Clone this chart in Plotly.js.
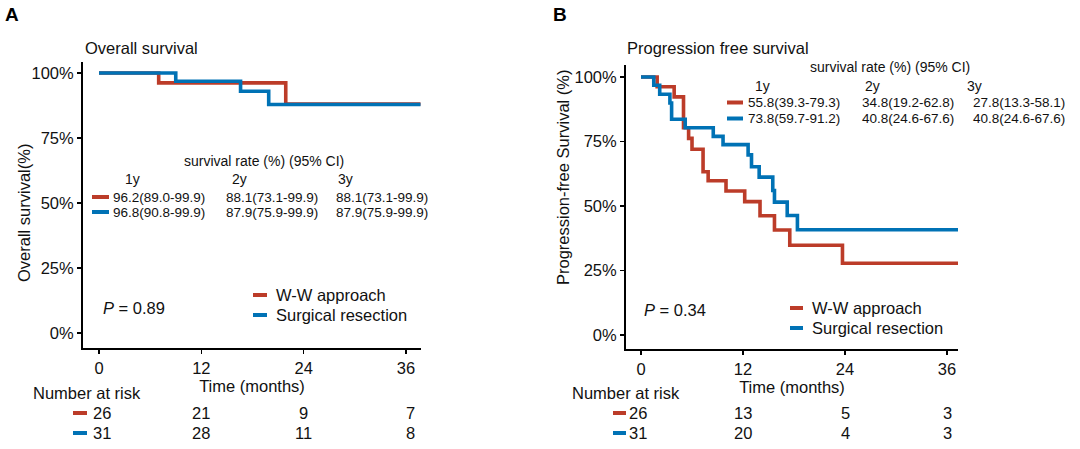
<!DOCTYPE html>
<html>
<head>
<meta charset="utf-8">
<script src="https://cdn.plot.ly/plotly-3.0.1.min.js"></script>
<style>html,body{margin:0;padding:0;background:#fff}#chart{width:1080px;height:449px}</style>
</head>
<body>
<div id="chart"></div>
<script>
// ---------- DATA ----------
const groupNames = ["W-W approach", "Surgical resection"];
const groupColors = ["#BC3C29", "#0072B5"];

// Overall survival (panel A)
const osTimeWW = [0, 7.0, 21.9, 37.7];
const osSurvWW = [100, 96.2, 88.1, 88.1];
const osTimeSR = [0, 9.0, 16.6, 19.9, 37.7];
const osSurvSR = [100, 96.8, 93.0, 87.9, 87.9];

// Progression free survival (panel B)
const pfsTimeWW = [0, 1.9, 3.9, 5.0, 5.6, 6.0, 7.3, 7.9, 10.0, 12.2, 14.0, 15.7, 17.5, 23.7, 37.3];
const pfsSurvWW = [100, 96.2, 92.3, 80.3, 76.2, 72.0, 63.3, 59.8, 55.8, 51.7, 46.2, 40.7, 34.8, 27.8, 27.8];
const pfsTimeSR = [0, 1.5, 2.2, 3.4, 3.6, 5.2, 8.5, 9.65, 12.6, 13.0, 13.9, 15.5, 15.7, 17.2, 18.4, 37.3];
const pfsSurvSR = [100, 96.8, 93.3, 89.9, 83.6, 80.3, 77.0, 73.8, 69.8, 65.2, 61.2, 56.0, 51.5, 46.3, 40.8, 40.8];

// axis ticks
const survTicks = [0, 25, 50, 75, 100];
const survTickLabels = ["0%", "25%", "50%", "75%", "100%"];

// survival-rate tables
const yearLabels = ["1y", "2y", "3y"];
const osRates = [["96.2(89.0-99.9)", "88.1(73.1-99.9)", "88.1(73.1-99.9)"],
                 ["96.8(90.8-99.9)", "87.9(75.9-99.9)", "87.9(75.9-99.9)"]];
const pfsRates = [["55.8(39.3-79.3)", "34.8(19.2-62.8)", "27.8(13.3-58.1)"],
                  ["73.8(59.7-91.2)", "40.8(24.6-67.6)", "40.8(24.6-67.6)"]];

// number at risk
const riskTimes = [0, 12, 24, 36];
const osRisk = [[26, 21, 9, 7], [31, 28, 11, 8]];
const pfsRisk = [[26, 13, 5, 3], [31, 20, 4, 3]];

const osP = "0.89";
const pfsP = "0.34";

// ---------- LAYOUT HELPERS ----------
const W = 1080, H = 449;
const FONT = "Liberation Sans, Arial, Helvetica, sans-serif";
const px = x => x / W;
const py = y => 1 - y / H;

function ann(text, x, y, o = {}) {
  return {
    text: text, x: o.xref ? x : px(x), y: py(y),
    xref: o.xref || "paper", yref: "paper",
    showarrow: false, xanchor: o.xanchor || "left", yanchor: "middle",
    textangle: o.angle || 0, xshift: o.xshift || 0, borderpad: 0,
    font: {family: FONT, size: o.size || 13.5, color: o.color || "#111"}
  };
}
function dash(x0, x1, y, color) {
  return {type: "line", xref: "paper", yref: "paper",
    x0: px(x0), x1: px(x1), y0: py(y), y1: py(y),
    line: {color: color, width: 4}};
}

function curve(t, s, i, xa, ya) {
  return {type: "scatter", mode: "lines", x: t, y: s, xaxis: xa, yaxis: ya,
    name: groupNames[i], showlegend: false,
    line: {shape: "hv", color: groupColors[i], width: 3.6}, hoverinfo: "skip"};
}

const data = [
  curve(osTimeWW, osSurvWW, 0, "x", "y"),
  curve(osTimeSR, osSurvSR, 1, "x", "y"),
  curve(pfsTimeWW, pfsSurvWW, 0, "x2", "y2"),
  curve(pfsTimeSR, pfsSurvSR, 1, "x2", "y2")
];

function xAxis(domain, range, anchor) {
  return {domain: domain, range: range, anchor: anchor,
    tickmode: "array", tickvals: riskTimes, ticktext: riskTimes.map(String),
    showgrid: false, zeroline: false,
    showline: true, linecolor: "#000", linewidth: 2,
    ticks: "outside", ticklen: 4, tickwidth: 1.5, tickcolor: "#000",
    tickfont: {family: FONT, size: 16.5, color: "#111"},
    title: {text: "Time (months)", font: {family: FONT, size: 16.5, color: "#111"}, standoff: 4}};
}
function yAxis(domain, range, anchor) {
  return {domain: domain, range: range, anchor: anchor,
    tickmode: "array", tickvals: survTicks, ticktext: survTickLabels,
    showgrid: false, zeroline: false,
    showline: true, linecolor: "#000", linewidth: 2,
    ticks: "outside", ticklen: 4, tickwidth: 1.5, tickcolor: "#000",
    tickfont: {family: FONT, size: 16.5, color: "#111"}};
}

const annotations = [];
const shapes = [];

// Panel letters and titles
annotations.push(ann("<b>A</b>", 4, 14, {size: 19, color: "#000"}));
annotations.push(ann("<b>B</b>", 552, 14, {size: 19, color: "#000"}));
annotations.push(ann("Overall survival", 84, 47.5, {size: 16.5}));
annotations.push(ann("Progression free survival", 626, 48, {size: 16.5}));

// Y axis titles
annotations.push(ann("Overall survival(%)", 24, 213, {size: 16.5, angle: -90, xanchor: "center"}));
annotations.push(ann("Progression-free Survival (%)", 563, 178, {size: 16.5, angle: -90, xanchor: "center"}));

// Survival table A
annotations.push(ann("survival rate (%) (95% CI)", 264, 161, {xanchor: "center", size: 14}));
[132, 239, 345].forEach((x, k) => annotations.push(ann(yearLabels[k], x, 179, {xanchor: "center", size: 14})));
[197, 212].forEach((y, g) => {
  shapes.push(dash(92, 109, y, groupColors[g]));
  [112, 225, 335].forEach((x, k) => annotations.push(ann(osRates[g][k], x, y)));
});

// Survival table B
annotations.push(ann("survival rate (%) (95% CI)", 890, 67, {xanchor: "center", size: 14}));
[762, 872, 974].forEach((x, k) => annotations.push(ann(yearLabels[k], x, 86, {xanchor: "center", size: 14})));
[102.5, 118.5].forEach((y, g) => {
  shapes.push(dash(727, 743, y, groupColors[g]));
  [747, 861, 972].forEach((x, k) => annotations.push(ann(pfsRates[g][k], x, y)));
});

// Legends
[[295, 315], [308, 328]].forEach((ys, panel) => {
  const dx = panel === 0 ? [253, 267, 275] : [790, 803, 811];
  ys.forEach((y, g) => {
    shapes.push(dash(dx[0], dx[1], y, groupColors[g]));
    annotations.push(ann(groupNames[g], dx[2], y, {size: 16.5}));
  });
});

// P values
annotations.push(ann("<i>P</i> = " + osP, 102, 308, {size: 16.5}));
annotations.push(ann("<i>P</i> = " + pfsP, 643, 310, {size: 16.5}));

// Number at risk
annotations.push(ann("Number at risk", 32, 393, {size: 16.5}));
annotations.push(ann("Number at risk", 571, 393, {size: 16.5}));
[413, 433].forEach((y, g) => {
  shapes.push(dash(73, 87, y, groupColors[g]));
  shapes.push(dash(613, 626, y, groupColors[g]));
  riskTimes.forEach((t, k) => {
    annotations.push(ann(String(osRisk[g][k]), t, y, {xref: "x", xanchor: "center", size: 16.5,
      xshift: k === 0 ? 3 : (k === 3 ? 5 : 0)}));
    annotations.push(ann(String(pfsRisk[g][k]), t, y, {xref: "x2", xanchor: "center", size: 16.5,
      xshift: k === 0 ? -3 : 0}));
  });
});

const layout = {
  width: W, height: H,
  margin: {l: 0, r: 0, t: 0, b: 0},
  paper_bgcolor: "#fff", plot_bgcolor: "#fff",
  font: {family: FONT, color: "#111"},
  showlegend: false,
  xaxis: xAxis([px(83), px(421)], [-1.876, 37.76], "y"),
  yaxis: yAxis([py(348), py(62)], [-5.77, 104.23], "x"),
  xaxis2: xAxis([px(626), px(958)], [-1.765, 37.29], "y2"),
  yaxis2: yAxis([py(349), py(65)], [-5.43, 104.65], "x2"),
  annotations: annotations,
  shapes: shapes
};

Plotly.newPlot("chart", data, layout, {staticPlot: true, displayModeBar: false});
</script>
</body>
</html>
